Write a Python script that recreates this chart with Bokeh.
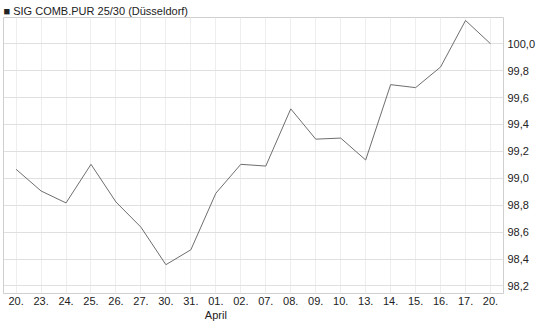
from bokeh.plotting import figure
from bokeh.models import (FixedTicker, LinearAxis, Range1d, Title, CustomJSTickFormatter)
from bokeh.embed import file_html
from bokeh.resources import INLINE

title = "SIG COMB.PUR 25/30 (Düsseldorf)"
day_labels = ["20.", "23.", "24.", "25.", "26.", "27.", "30.", "31.", "01.", "02.",
              "07.", "08.", "09.", "10.", "13.", "14.", "15.", "16.", "17.", "20."]
month_label = "April"
month_index = 8
prices = [99.067, 98.906, 98.817, 99.104, 98.824, 98.637, 98.358, 98.469, 98.889, 99.104,
          99.091, 99.516, 99.291, 99.299, 99.136, 99.696, 99.674, 99.827, 100.173, 100.0]
y_ticks = [98.2, 98.4, 98.6, 98.8, 99.0, 99.2, 99.4, 99.6, 99.8, 100.0]

xs = list(range(len(prices)))
FONT = "Liberation Sans"

p = figure(width=545, height=327, output_backend="svg", toolbar_location=None,
           x_range=Range1d(-0.504, 19.52), y_range=Range1d(98.144, 100.195),
           x_axis_location=None, y_axis_location=None,
           min_border_left=3, min_border_right=42, min_border_top=17, min_border_bottom=34)
p.background_fill_color = "white"
p.border_fill_color = "white"
p.outline_line_color = "#cfcfcf"
p.outline_line_width = 1

t = Title(text="■ " + title, align="left", standoff=2, offset=0,
          text_font=FONT, text_font_size="11px", text_font_style="normal",
          text_color="#222222")
p.add_layout(t, "above")


def style_axis(ax, standoff):
    ax.axis_line_color = None
    ax.major_tick_line_color = None
    ax.minor_tick_line_color = None
    ax.major_tick_out = 0
    ax.major_tick_in = 0
    ax.minor_tick_out = 0
    ax.minor_tick_in = 0
    ax.major_label_standoff = standoff
    ax.major_label_text_font = FONT
    ax.major_label_text_font_size = "11px"
    ax.major_label_text_color = "#222222"


xaxis = LinearAxis(ticker=FixedTicker(ticks=xs))
xaxis.major_label_overrides = {i: l for i, l in enumerate(day_labels)}
style_axis(xaxis, 3)
p.add_layout(xaxis, "below")

month_axis = LinearAxis(ticker=FixedTicker(ticks=[month_index]))
month_axis.major_label_overrides = {month_index: month_label}
style_axis(month_axis, 1)
p.add_layout(month_axis, "below")

yaxis = LinearAxis(ticker=FixedTicker(ticks=y_ticks),
                   formatter=CustomJSTickFormatter(code="return tick.toFixed(1).replace('.', ',');"))
style_axis(yaxis, 4)
p.add_layout(yaxis, "right")

p.xgrid.ticker = FixedTicker(ticks=xs)
p.ygrid.ticker = FixedTicker(ticks=y_ticks)
p.xgrid.grid_line_color = "#eeeeee"
p.ygrid.grid_line_color = "#e0e0e0"
p.xgrid.grid_line_width = 1
p.ygrid.grid_line_width = 1

p.line(xs, prices, line_color="#6e6e6e", line_width=1)

open("out.html", "w").write(file_html(p, INLINE))
